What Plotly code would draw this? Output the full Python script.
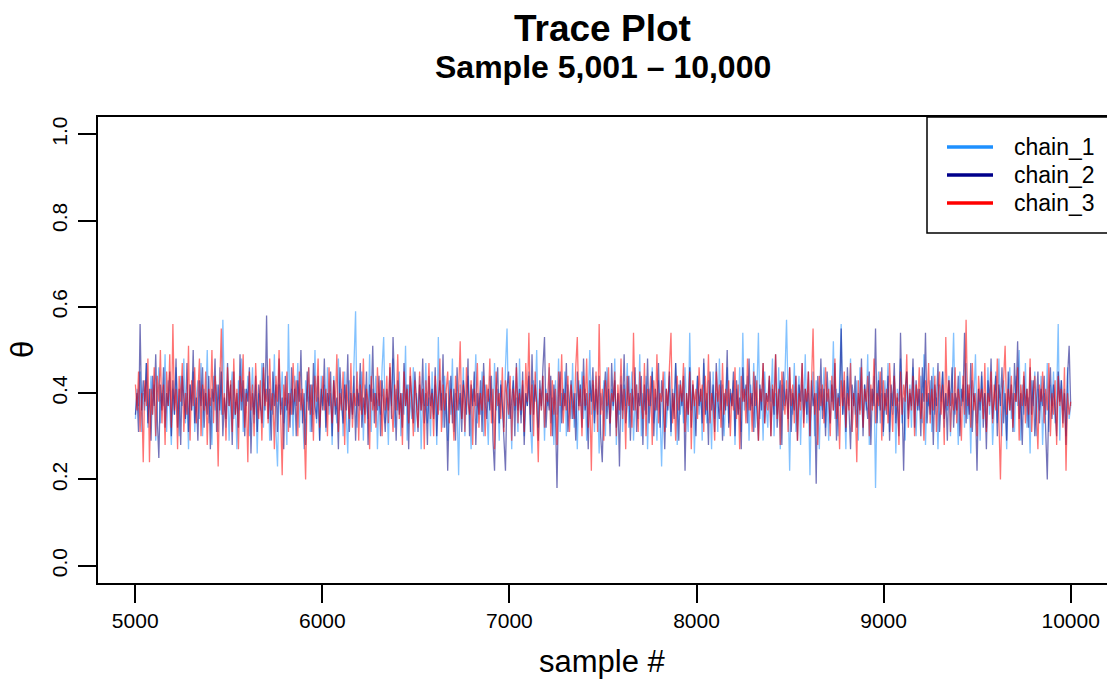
import numpy as np
import plotly.graph_objects as go

# ---------------- data (values read/estimated from the reference trace) ----------------
sample_start = 5001
sample_end = 10000

chain_1 = [
    0.34, 0.41, 0.37, 0.45, 0.31, 0.40, 0.36, 0.47, 0.32, 0.39, 0.44, 0.35, 0.42, 0.29, 0.38, 0.46, 0.33, 0.40, 0.37, 0.49,
    0.31, 0.43, 0.36, 0.28, 0.41, 0.35, 0.46, 0.39, 0.30, 0.44, 0.37, 0.48, 0.33, 0.40, 0.27, 0.42, 0.36, 0.45, 0.31, 0.39,
    0.43, 0.34, 0.47, 0.30, 0.41, 0.37, 0.50, 0.33, 0.39, 0.28, 0.44, 0.36, 0.42, 0.31, 0.46, 0.35, 0.57, 0.38, 0.32, 0.43,
    0.29, 0.40, 0.45, 0.34, 0.38, 0.27, 0.43, 0.36, 0.48, 0.31, 0.41, 0.37, 0.44, 0.30, 0.39, 0.46, 0.33, 0.42, 0.26, 0.40,
    0.36, 0.47, 0.32, 0.41, 0.38, 0.44, 0.29, 0.40, 0.35, 0.49, 0.31, 0.23, 0.42, 0.37, 0.45, 0.33, 0.39, 0.28, 0.56, 0.35,
    0.41, 0.30, 0.44, 0.37, 0.47, 0.32, 0.40, 0.36, 0.27, 0.43, 0.38, 0.46, 0.31, 0.42, 0.35, 0.50, 0.33, 0.39, 0.29, 0.44,
    0.37, 0.42, 0.31, 0.46, 0.35, 0.40, 0.28, 0.44, 0.38, 0.33, 0.48, 0.36, 0.41, 0.30, 0.45, 0.37, 0.26, 0.43, 0.39, 0.34,
    0.47, 0.59, 0.32, 0.40, 0.36, 0.45, 0.29, 0.42, 0.38, 0.34, 0.49, 0.31, 0.41, 0.37, 0.44, 0.27, 0.40, 0.35, 0.46, 0.53,
    0.33, 0.39, 0.28, 0.43, 0.37, 0.48, 0.32, 0.41, 0.36, 0.45, 0.30, 0.40, 0.35, 0.51, 0.29, 0.42, 0.38, 0.34, 0.46, 0.31,
    0.40, 0.36, 0.44, 0.27, 0.41, 0.37, 0.47, 0.33, 0.39, 0.30, 0.45, 0.35, 0.42, 0.28, 0.53, 0.36, 0.40, 0.32, 0.44, 0.38,
    0.29, 0.43, 0.35, 0.48, 0.31, 0.40, 0.37, 0.21, 0.42, 0.34, 0.46, 0.30, 0.39, 0.44, 0.36, 0.27, 0.41, 0.38, 0.49, 0.33,
    0.40, 0.35, 0.45, 0.30, 0.42, 0.37, 0.28, 0.44, 0.39, 0.33, 0.47, 0.36, 0.41, 0.29, 0.43, 0.38, 0.32, 0.46, 0.55, 0.34,
    0.41, 0.27, 0.44, 0.36, 0.39, 0.31, 0.48, 0.35, 0.42, 0.30, 0.40, 0.37, 0.45, 0.33, 0.26, 0.43, 0.38, 0.50, 0.32, 0.40,
    0.36, 0.44, 0.29, 0.41, 0.37, 0.46, 0.33, 0.39, 0.28, 0.43, 0.35, 0.48, 0.31, 0.40, 0.36, 0.45, 0.30, 0.42, 0.38, 0.34,
    0.47, 0.32, 0.40, 0.27, 0.43, 0.37, 0.45, 0.34, 0.41, 0.29, 0.39, 0.50, 0.35, 0.42, 0.31, 0.44, 0.38, 0.26, 0.40, 0.36,
    0.43, 0.30, 0.46, 0.38, 0.33, 0.41, 0.36, 0.48, 0.28, 0.40, 0.35, 0.44, 0.31, 0.42, 0.37, 0.47, 0.32, 0.39, 0.45, 0.29,
    0.38, 0.42, 0.34, 0.49, 0.30, 0.40, 0.36, 0.44, 0.27, 0.41, 0.37, 0.46, 0.33, 0.39, 0.29, 0.43, 0.35, 0.23, 0.40, 0.45,
    0.32, 0.38, 0.44, 0.30, 0.41, 0.36, 0.47, 0.28, 0.42, 0.35, 0.40, 0.33, 0.46, 0.37, 0.31, 0.54, 0.36, 0.42, 0.26, 0.39,
    0.44, 0.35, 0.41, 0.29, 0.47, 0.37, 0.33, 0.43, 0.38, 0.27, 0.45, 0.34, 0.40, 0.31, 0.48, 0.36, 0.42, 0.30, 0.39, 0.46,
    0.33, 0.40, 0.37, 0.43, 0.28, 0.41, 0.35, 0.46, 0.31, 0.54, 0.36, 0.39, 0.44, 0.29, 0.42, 0.37, 0.47, 0.32, 0.40, 0.54,
    0.34, 0.41, 0.29, 0.45, 0.37, 0.32, 0.43, 0.38, 0.48, 0.30, 0.40, 0.35, 0.46, 0.27, 0.42, 0.36, 0.44, 0.57, 0.39, 0.22,
    0.41, 0.35, 0.47, 0.31, 0.39, 0.44, 0.28, 0.42, 0.36, 0.49, 0.33, 0.40, 0.21, 0.38, 0.45, 0.30, 0.43, 0.37, 0.27, 0.41,
    0.36, 0.46, 0.32, 0.40, 0.29, 0.43, 0.38, 0.52, 0.34, 0.41, 0.30, 0.45, 0.56, 0.35, 0.39, 0.27, 0.44, 0.37, 0.48, 0.31,
    0.40, 0.35, 0.43, 0.29, 0.46, 0.38, 0.32, 0.42, 0.36, 0.49, 0.28, 0.41, 0.37, 0.44, 0.18, 0.39, 0.45, 0.33, 0.40, 0.30,
    0.43, 0.37, 0.47, 0.31, 0.40, 0.35, 0.44, 0.26, 0.41, 0.38, 0.48, 0.33, 0.39, 0.29, 0.45, 0.36, 0.42, 0.32, 0.46, 0.37,
    0.30, 0.41, 0.36, 0.44, 0.33, 0.49, 0.28, 0.40, 0.37, 0.43, 0.31, 0.46, 0.35, 0.39, 0.27, 0.42, 0.38, 0.45, 0.32, 0.40,
    0.36, 0.44, 0.30, 0.41, 0.54, 0.35, 0.39, 0.28, 0.45, 0.37, 0.42, 0.32, 0.47, 0.34, 0.40, 0.26, 0.43, 0.38, 0.49, 0.33,
    0.41, 0.29, 0.44, 0.37, 0.40, 0.32, 0.46, 0.35, 0.42, 0.28, 0.39, 0.45, 0.33, 0.48, 0.36, 0.30, 0.43, 0.38, 0.27, 0.41,
    0.46, 0.34, 0.40, 0.31, 0.44, 0.37, 0.50, 0.29, 0.42, 0.35, 0.47, 0.32, 0.39, 0.26, 0.43, 0.37, 0.45, 0.30, 0.41, 0.36,
    0.44, 0.28, 0.40, 0.35, 0.47, 0.31, 0.42, 0.37, 0.45, 0.33, 0.39, 0.56, 0.29, 0.43, 0.36, 0.41, 0.30, 0.46, 0.34, 0.37,
]

chain_2 = [
    0.35, 0.40, 0.31, 0.56, 0.36, 0.43, 0.38, 0.47, 0.33, 0.41, 0.29, 0.44, 0.37, 0.49, 0.34, 0.25, 0.42, 0.36, 0.46, 0.32,
    0.40, 0.37, 0.45, 0.30, 0.43, 0.35, 0.48, 0.32, 0.41, 0.28, 0.44, 0.38, 0.34, 0.47, 0.31, 0.42, 0.36, 0.50, 0.33, 0.39,
    0.29, 0.43, 0.37, 0.46, 0.32, 0.40, 0.35, 0.44, 0.27, 0.41, 0.38, 0.48, 0.31, 0.42, 0.36, 0.45, 0.30, 0.39, 0.34, 0.47,
    0.37, 0.42, 0.28, 0.45, 0.35, 0.40, 0.32, 0.49, 0.36, 0.43, 0.30, 0.41, 0.38, 0.46, 0.26, 0.40, 0.35, 0.44, 0.31, 0.42,
    0.38, 0.33, 0.47, 0.36, 0.58, 0.34, 0.41, 0.29, 0.45, 0.37, 0.42, 0.31, 0.48, 0.35, 0.39, 0.27, 0.44, 0.36, 0.40, 0.32,
    0.46, 0.35, 0.41, 0.30, 0.43, 0.38, 0.50, 0.33, 0.40, 0.28, 0.45, 0.36, 0.42, 0.31, 0.47, 0.37, 0.34, 0.44, 0.29, 0.41,
    0.36, 0.48, 0.32, 0.40, 0.37, 0.45, 0.30, 0.43, 0.35, 0.39, 0.27, 0.46, 0.38, 0.33, 0.42, 0.36, 0.49, 0.31, 0.40, 0.35,
    0.44, 0.29, 0.41, 0.37, 0.47, 0.32, 0.39, 0.35, 0.45, 0.28, 0.42, 0.38, 0.51, 0.33, 0.40, 0.36, 0.44, 0.30, 0.43, 0.37,
    0.31, 0.41, 0.36, 0.46, 0.34, 0.53, 0.38, 0.29, 0.43, 0.35, 0.40, 0.32, 0.47, 0.37, 0.42, 0.27, 0.44, 0.39, 0.33, 0.45,
    0.38, 0.31, 0.42, 0.36, 0.48, 0.33, 0.40, 0.28, 0.44, 0.37, 0.41, 0.34, 0.46, 0.30, 0.39, 0.43, 0.36, 0.49, 0.32, 0.40,
    0.22, 0.37, 0.44, 0.33, 0.41, 0.29, 0.46, 0.36, 0.40, 0.31, 0.43, 0.38, 0.35, 0.48, 0.30, 0.42, 0.37, 0.45, 0.28, 0.40,
    0.35, 0.43, 0.31, 0.47, 0.38, 0.34, 0.41, 0.36, 0.44, 0.29, 0.22, 0.40, 0.46, 0.33, 0.42, 0.37, 0.30, 0.22, 0.41, 0.45,
    0.34, 0.39, 0.43, 0.30, 0.47, 0.36, 0.41, 0.33, 0.45, 0.28, 0.40, 0.37, 0.44, 0.31, 0.49, 0.35, 0.42, 0.38, 0.29, 0.43,
    0.37, 0.46, 0.53, 0.32, 0.40, 0.36, 0.44, 0.30, 0.42, 0.35, 0.18, 0.39, 0.45, 0.33, 0.41, 0.37, 0.47, 0.31, 0.38, 0.43,
    0.34, 0.40, 0.29, 0.45, 0.37, 0.42, 0.32, 0.48, 0.36, 0.40, 0.27, 0.43, 0.38, 0.46, 0.33, 0.41, 0.35, 0.44, 0.30, 0.24,
    0.39, 0.45, 0.34, 0.41, 0.30, 0.47, 0.37, 0.43, 0.32, 0.40, 0.23, 0.42, 0.36, 0.49, 0.33, 0.38, 0.44, 0.29, 0.41, 0.36,
    0.46, 0.31, 0.40, 0.37, 0.44, 0.28, 0.42, 0.35, 0.48, 0.33, 0.39, 0.45, 0.30, 0.41, 0.36, 0.47, 0.32, 0.43, 0.38, 0.27,
    0.41, 0.36, 0.45, 0.31, 0.40, 0.34, 0.47, 0.38, 0.29, 0.43, 0.37, 0.44, 0.22, 0.40, 0.35, 0.46, 0.32, 0.42, 0.38, 0.30,
    0.44, 0.37, 0.41, 0.33, 0.48, 0.35, 0.40, 0.28, 0.45, 0.36, 0.42, 0.31, 0.47, 0.38, 0.34, 0.43, 0.29, 0.40, 0.36, 0.50,
    0.32, 0.41, 0.37, 0.45, 0.30, 0.43, 0.35, 0.39, 0.27, 0.46, 0.38, 0.42, 0.33, 0.48, 0.36, 0.40, 0.31, 0.44, 0.37, 0.29,
    0.42, 0.36, 0.47, 0.33, 0.40, 0.38, 0.44, 0.30, 0.41, 0.35, 0.49, 0.32, 0.39, 0.43, 0.28, 0.45, 0.37, 0.41, 0.34, 0.46,
    0.31, 0.40, 0.36, 0.44, 0.29, 0.42, 0.38, 0.47, 0.33, 0.41, 0.35, 0.45, 0.30, 0.43, 0.37, 0.40, 0.19, 0.44, 0.36, 0.48,
    0.34, 0.41, 0.30, 0.45, 0.38, 0.33, 0.42, 0.36, 0.47, 0.29, 0.40, 0.37, 0.55, 0.35, 0.43, 0.31, 0.46, 0.38, 0.27, 0.42,
    0.37, 0.44, 0.32, 0.40, 0.36, 0.48, 0.30, 0.42, 0.38, 0.34, 0.45, 0.28, 0.41, 0.37, 0.55, 0.33, 0.43, 0.36, 0.46, 0.31,
    0.40, 0.35, 0.44, 0.29, 0.42, 0.37, 0.47, 0.33, 0.39, 0.30, 0.54, 0.36, 0.22, 0.41, 0.45, 0.34, 0.40, 0.37, 0.48, 0.32,
    0.43, 0.36, 0.41, 0.30, 0.46, 0.38, 0.54, 0.33, 0.40, 0.35, 0.44, 0.28, 0.42, 0.37, 0.47, 0.31, 0.39, 0.45, 0.34, 0.40,
    0.29, 0.43, 0.37, 0.46, 0.32, 0.40, 0.36, 0.44, 0.30, 0.41, 0.38, 0.54, 0.33, 0.42, 0.35, 0.47, 0.31, 0.40, 0.37, 0.22,
    0.41, 0.36, 0.45, 0.32, 0.40, 0.27, 0.43, 0.38, 0.48, 0.34, 0.39, 0.44, 0.30, 0.42, 0.37, 0.46, 0.33, 0.40, 0.29, 0.45,
    0.36, 0.42, 0.31, 0.47, 0.38, 0.52, 0.34, 0.40, 0.28, 0.44, 0.37, 0.41, 0.32, 0.46, 0.35, 0.43, 0.30, 0.39, 0.45, 0.33,
    0.41, 0.37, 0.44, 0.31, 0.20, 0.39, 0.46, 0.34, 0.42, 0.36, 0.30, 0.45, 0.38, 0.43, 0.33, 0.40, 0.28, 0.44, 0.51, 0.37,
]

chain_3 = [
    0.42, 0.36, 0.45, 0.31, 0.40, 0.24, 0.43, 0.37, 0.48, 0.24, 0.41, 0.35, 0.46, 0.30, 0.44, 0.38, 0.50, 0.33, 0.42, 0.28,
    0.45, 0.37, 0.49, 0.32, 0.56, 0.36, 0.41, 0.27, 0.44, 0.38, 0.47, 0.31, 0.40, 0.35, 0.51, 0.29, 0.43, 0.37, 0.46, 0.33,
    0.40, 0.48, 0.30, 0.42, 0.36, 0.45, 0.28, 0.41, 0.37, 0.50, 0.33, 0.44, 0.39, 0.23, 0.42, 0.55, 0.35, 0.40, 0.29, 0.46,
    0.37, 0.43, 0.31, 0.48, 0.35, 0.41, 0.27, 0.44, 0.38, 0.49, 0.32, 0.40, 0.24, 0.45, 0.36, 0.42, 0.30, 0.47, 0.38, 0.34,
    0.43, 0.29, 0.46, 0.37, 0.41, 0.33, 0.48, 0.36, 0.40, 0.27, 0.44, 0.38, 0.50, 0.32, 0.21, 0.42, 0.37, 0.45, 0.31, 0.40,
    0.35, 0.47, 0.38, 0.43, 0.30, 0.45, 0.36, 0.41, 0.33, 0.20, 0.40, 0.46, 0.35, 0.42, 0.29, 0.44, 0.38, 0.48, 0.32, 0.39,
    0.44, 0.36, 0.41, 0.30, 0.46, 0.38, 0.33, 0.43, 0.37, 0.49, 0.31, 0.40, 0.36, 0.45, 0.28, 0.42, 0.38, 0.34, 0.47, 0.32,
    0.40, 0.37, 0.45, 0.29, 0.42, 0.35, 0.48, 0.33, 0.41, 0.38, 0.27, 0.44, 0.36, 0.40, 0.32, 0.46, 0.37, 0.43, 0.30, 0.41,
    0.36, 0.44, 0.33, 0.47, 0.38, 0.31, 0.42, 0.36, 0.49, 0.34, 0.40, 0.28, 0.45, 0.37, 0.41, 0.33, 0.46, 0.39, 0.30, 0.43,
    0.38, 0.32, 0.45, 0.36, 0.41, 0.27, 0.43, 0.37, 0.47, 0.34, 0.40, 0.30, 0.44, 0.38, 0.35, 0.48, 0.31, 0.42, 0.36, 0.40,
    0.45, 0.33, 0.41, 0.37, 0.29, 0.44, 0.36, 0.40, 0.52, 0.34, 0.42, 0.31, 0.46, 0.38, 0.35, 0.43, 0.28, 0.41, 0.37, 0.47,
    0.32, 0.40, 0.36, 0.44, 0.30, 0.42, 0.38, 0.48, 0.33, 0.41, 0.27, 0.45, 0.37, 0.40, 0.34, 0.46, 0.31, 0.43, 0.39, 0.35,
    0.44, 0.29, 0.41, 0.37, 0.46, 0.33, 0.40, 0.36, 0.43, 0.31, 0.47, 0.38, 0.54, 0.35, 0.42, 0.30, 0.45, 0.37, 0.24, 0.41,
    0.36, 0.44, 0.32, 0.40, 0.38, 0.47, 0.30, 0.43, 0.35, 0.41, 0.28, 0.45, 0.37, 0.49, 0.33, 0.40, 0.36, 0.44, 0.31, 0.42,
    0.38, 0.34, 0.46, 0.53, 0.36, 0.41, 0.30, 0.44, 0.37, 0.48, 0.32, 0.40, 0.22, 0.43, 0.36, 0.45, 0.31, 0.56, 0.35, 0.41,
    0.29, 0.43, 0.37, 0.46, 0.33, 0.40, 0.38, 0.45, 0.30, 0.42, 0.36, 0.48, 0.34, 0.41, 0.27, 0.44, 0.37, 0.40, 0.32, 0.54,
    0.36, 0.42, 0.31, 0.45, 0.38, 0.34, 0.47, 0.30, 0.41, 0.37, 0.44, 0.28, 0.43, 0.36, 0.49, 0.33, 0.40, 0.38, 0.45, 0.31,
    0.41, 0.37, 0.46, 0.54, 0.33, 0.40, 0.29, 0.44, 0.36, 0.42, 0.38, 0.47, 0.31, 0.40, 0.35, 0.45, 0.27, 0.43, 0.37, 0.41,
    0.34, 0.46, 0.38, 0.42, 0.31, 0.44, 0.36, 0.49, 0.33, 0.40, 0.37, 0.29, 0.45, 0.38, 0.42, 0.32, 0.47, 0.35, 0.41, 0.37,
    0.43, 0.30, 0.40, 0.36, 0.46, 0.34, 0.42, 0.27, 0.44, 0.38, 0.41, 0.33, 0.48, 0.36, 0.40, 0.31, 0.45, 0.37, 0.43, 0.29,
    0.41, 0.38, 0.47, 0.33, 0.40, 0.36, 0.44, 0.30, 0.42, 0.37, 0.49, 0.34, 0.41, 0.28, 0.45, 0.38, 0.35, 0.43, 0.31, 0.46,
    0.37, 0.42, 0.33, 0.44, 0.29, 0.40, 0.36, 0.47, 0.32, 0.41, 0.38, 0.45, 0.30, 0.43, 0.55, 0.35, 0.40, 0.28, 0.44, 0.37,
    0.42, 0.33, 0.46, 0.38, 0.41, 0.30, 0.44, 0.36, 0.48, 0.34, 0.39, 0.27, 0.43, 0.37, 0.45, 0.32, 0.40, 0.36, 0.47, 0.31,
    0.40, 0.37, 0.24, 0.43, 0.35, 0.46, 0.32, 0.41, 0.38, 0.44, 0.30, 0.42, 0.36, 0.48, 0.33, 0.40, 0.37, 0.45, 0.29, 0.43,
    0.36, 0.41, 0.33, 0.47, 0.38, 0.31, 0.44, 0.37, 0.40, 0.28, 0.45, 0.35, 0.42, 0.38, 0.49, 0.32, 0.41, 0.36, 0.44, 0.30,
    0.42, 0.37, 0.46, 0.34, 0.40, 0.29, 0.43, 0.38, 0.47, 0.33, 0.41, 0.36, 0.44, 0.31, 0.39, 0.45, 0.35, 0.42, 0.28, 0.53,
    0.37, 0.43, 0.31, 0.40, 0.36, 0.46, 0.33, 0.41, 0.38, 0.29, 0.44, 0.35, 0.57, 0.37, 0.42, 0.32, 0.47, 0.36, 0.40, 0.30,
    0.44, 0.38, 0.41, 0.34, 0.47, 0.31, 0.40, 0.37, 0.45, 0.33, 0.42, 0.36, 0.48, 0.30, 0.20, 0.39, 0.43, 0.51, 0.35, 0.41,
    0.36, 0.44, 0.32, 0.40, 0.38, 0.46, 0.29, 0.42, 0.37, 0.45, 0.33, 0.41, 0.35, 0.48, 0.31, 0.39, 0.44, 0.36, 0.27, 0.42,
    0.38, 0.45, 0.33, 0.41, 0.36, 0.47, 0.30, 0.40, 0.35, 0.43, 0.28, 0.44, 0.37, 0.41, 0.32, 0.46, 0.22, 0.40, 0.35, 0.38,
]

chain_names = ["chain_1", "chain_2", "chain_3"]
x_ticks = [5000, 6000, 7000, 8000, 9000, 10000]
x_tick_labels = ["5000", "6000", "7000", "8000", "9000", "10000"]
y_ticks = [0.0, 0.2, 0.4, 0.6, 0.8, 1.0]
y_tick_labels = ["0.0", "0.2", "0.4", "0.6", "0.8", "1.0"]

# ---------------- styling ----------------
FONT = "Liberation Sans, Arial, Helvetica, sans-serif"
line_colors = ["rgba(30,144,255,0.55)", "rgba(0,0,128,0.55)", "rgba(255,0,0,0.55)"]
legend_colors = ["#1E90FF", "#00008B", "#FF0000"]

L, T, B = 98, 117, 96
W, H = 1107, 679
plot_w = W - L
plot_h = H - T - B

def px_to_paper_y(py):
    return (H - B - py) / plot_h

def px_to_paper_x(px):
    return (px - L) / plot_w

fig = go.Figure()
for name, vals, c in zip(chain_names, [chain_1, chain_2, chain_3], line_colors):
    xs = np.linspace(sample_start, sample_end, len(vals))
    fig.add_trace(go.Scatter(x=xs, y=vals, mode="lines", name=name,
                             line=dict(color=c, width=1.3), showlegend=False,
                             hoverinfo="skip"))

# legend drawn as a box with line keys and labels (matches the R legend layout)
shapes = [dict(type="rect", xref="paper", yref="paper",
               x0=px_to_paper_x(927), x1=px_to_paper_x(1115),
               y0=px_to_paper_y(233), y1=1.0,
               line=dict(color="black", width=1.5), fillcolor="white", layer="above")]
annotations = []
for i, (name, c) in enumerate(zip(chain_names, legend_colors)):
    ypx = 147 + 28 * i
    shapes.append(dict(type="line", xref="paper", yref="paper",
                       x0=px_to_paper_x(947), x1=px_to_paper_x(993),
                       y0=px_to_paper_y(ypx), y1=px_to_paper_y(ypx),
                       line=dict(color=c, width=3.5), layer="above"))
    annotations.append(dict(text=name, xref="paper", yref="paper",
                            x=px_to_paper_x(1012), y=px_to_paper_y(ypx),
                            xanchor="left", yanchor="middle", showarrow=False,
                            font=dict(size=23, family=FONT, color="black")))

annotations += [
    dict(text="<b>Trace Plot</b>", xref="paper", yref="paper", x=0.5,
         y=px_to_paper_y(29), xanchor="center", yanchor="middle",
         showarrow=False, font=dict(size=37, family=FONT, color="black")),
    dict(text="<b>Sample 5,001 \u2013 10,000</b>", xref="paper", yref="paper", x=0.5,
         y=px_to_paper_y(67), xanchor="center", yanchor="middle",
         showarrow=False, font=dict(size=32, family=FONT, color="black")),
    dict(text="sample #", xref="paper", yref="paper", x=0.5,
         y=px_to_paper_y(661), xanchor="center", yanchor="middle",
         showarrow=False, font=dict(size=31, family=FONT, color="black")),
    dict(text="\u03b8", xref="paper", yref="paper", x=px_to_paper_x(22),
         y=0.5, xanchor="center", yanchor="middle", textangle=-90,
         showarrow=False, font=dict(size=31, family=FONT, color="black")),
]

fig.update_layout(
    width=W, height=H,
    margin=dict(l=L, r=0, t=T, b=B, pad=0),
    paper_bgcolor="white", plot_bgcolor="white",
    font=dict(family=FONT, color="black"),
    showlegend=False,
    xaxis=dict(range=[4801, 10194], tickvals=x_ticks, ticktext=x_tick_labels,
               ticks="outside", ticklen=18,
               tickwidth=1.5, tickcolor="black", showline=True, linecolor="black",
               linewidth=1.5, mirror=True, showgrid=False, zeroline=False,
               tickfont=dict(size=21, family=FONT, color="black")),
    yaxis=dict(range=[-0.04, 1.04], tickvals=y_ticks, ticktext=y_tick_labels,
               ticks="outside", ticklen=18, tickwidth=1.5, tickcolor="black",
               showline=True, linecolor="black", linewidth=1.5, mirror=False,
               showgrid=False, zeroline=False, tickangle=-90,
               ticklabelstandoff=3,
               tickfont=dict(size=21, family=FONT, color="black")),
    shapes=shapes,
    annotations=annotations,
)

fig.write_html("out.html")
